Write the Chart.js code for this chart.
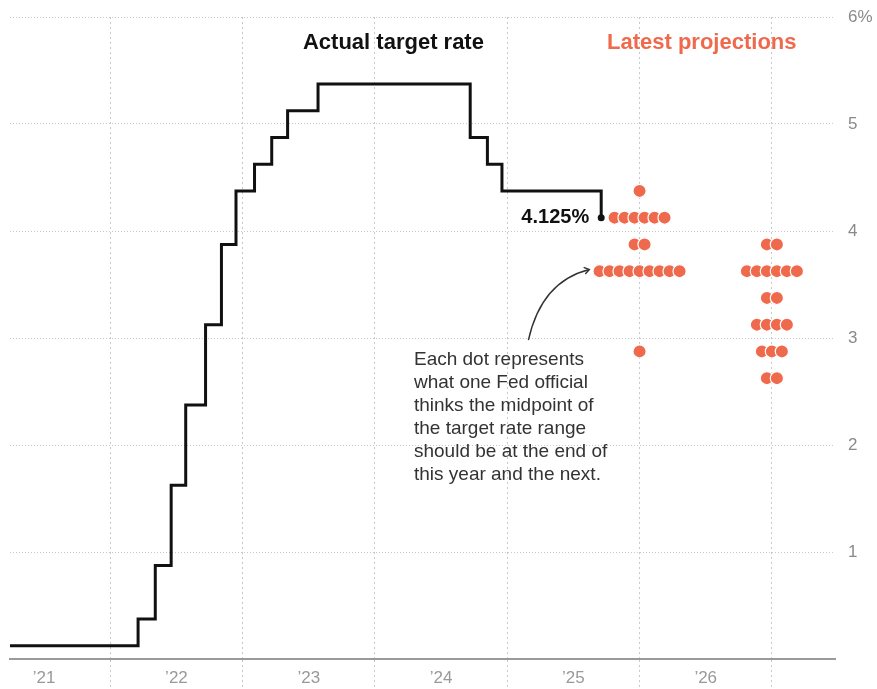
<!DOCTYPE html>
<html>
<head>
<meta charset="utf-8">
<script src="https://cdn.jsdelivr.net/npm/chart.js@4/dist/chart.umd.min.js"></script>
<style>
  html, body { margin: 0; padding: 0; background: #fff; }
  #wrap { width: 877px; height: 689px; position: relative; }
</style>
</head>
<body>
<div id="wrap"><canvas id="myChart"></canvas></div>
<script>
// actual target rate (midpoint), change dates as decimal years
const rateDates = [2021.24, 2022.21, 2022.34, 2022.46, 2022.57, 2022.72, 2022.84, 2022.95,
                   2023.09, 2023.22, 2023.34, 2023.57, 2024.72, 2024.85, 2024.96, 2025.71]
const rateValues = [0.125, 0.375, 0.875, 1.625, 2.375, 3.125, 3.875, 4.375,
                    4.625, 4.875, 5.125, 5.375, 4.875, 4.625, 4.375, 4.125]

// dot plot: year-end projections, one dot per official
const projLevels2025 = [4.375, 4.125, 3.875, 3.625, 2.875]
const projCounts2025 = [1, 6, 2, 9, 1]
const projLevels2026 = [3.875, 3.625, 3.375, 3.125, 2.875, 2.625]
const projCounts2026 = [2, 6, 2, 4, 3, 2]

const yTicks = [1, 2, 3, 4, 5, 6]
const yearLabels = [2021, 2022, 2023, 2024, 2025, 2026]

const orange = '#ef6a4c'
const dotStep = 0.0756 // years between neighbouring dots

function buildDots(year, levels, counts) {
    const pts = []
    levels.forEach((lvl, k) => {
        const n = counts[k]
        for (let i = 0; i < n; i++) {
            pts.push({ x: year + (i - (n - 1) / 2) * dotStep, y: lvl })
        }
    })
    return pts
}

const dots = buildDots(2026, projLevels2025, projCounts2025)
    .concat(buildDots(2027, projLevels2026, projCounts2026))

const labelsPlugin = {
    id: 'labels',
    afterDatasetsDraw(chart) {
        const { ctx, scales: { x, y } } = chart
        ctx.save()
        ctx.textBaseline = 'middle'

        // headers
        ctx.font = 'bold 22px "Liberation Sans", Arial, sans-serif'
        ctx.textAlign = 'center'
        ctx.fillStyle = '#111'
        ctx.fillText('Actual target rate', x.getPixelForValue(2024.14), y.getPixelForValue(5.757))
        ctx.fillStyle = orange
        ctx.fillText('Latest projections', x.getPixelForValue(2026.47), y.getPixelForValue(5.757))

        // last value
        const lastX = x.getPixelForValue(rateDates[rateDates.length - 1])
        const lastY = y.getPixelForValue(rateValues[rateValues.length - 1])
        ctx.font = 'bold 20px "Liberation Sans", Arial, sans-serif'
        ctx.textAlign = 'right'
        ctx.fillStyle = '#111'
        ctx.fillText('4.125%', lastX - 12, lastY)

        // note
        const note = ['Each dot represents', 'what one Fed official', 'thinks the midpoint of',
                      'the target rate range', 'should be at the end of', 'this year and the next.']
        ctx.font = '19px "Liberation Sans", Arial, sans-serif'
        ctx.textAlign = 'left'
        ctx.fillStyle = '#333'
        const nx = x.getPixelForValue(2024.295)
        const ny = y.getPixelForValue(2.794)
        note.forEach((line, i) => ctx.fillText(line, nx, ny + i * 23))

        // arrow
        const sx = x.getPixelForValue(2025.16), sy = y.getPixelForValue(2.98)
        const ex = x.getPixelForValue(2025.62), ey = y.getPixelForValue(3.64)
        const cx = sx + 13, cy = ey + 12
        ctx.strokeStyle = '#333'
        ctx.lineWidth = 1.4
        ctx.beginPath()
        ctx.moveTo(sx, sy)
        ctx.quadraticCurveTo(cx, cy, ex, ey)
        ctx.stroke()
        const ang = Math.atan2(ey - cy, ex - cx)
        ctx.beginPath()
        ctx.moveTo(ex - 6 * Math.cos(ang - 0.6), ey - 6 * Math.sin(ang - 0.6))
        ctx.lineTo(ex, ey)
        ctx.lineTo(ex - 6 * Math.cos(ang + 0.6), ey - 6 * Math.sin(ang + 0.6))
        ctx.stroke()
        ctx.restore()
    }
}

const ctx = document.getElementById('myChart')

const myChart = new Chart(ctx, {
    data: {
        datasets: [
            {
                type: 'scatter',
                label: 'Projections',
                data: dots,
                backgroundColor: orange,
                borderColor: '#fff',
                borderWidth: 1.2,
                pointRadius: 6.6,
                pointHoverRadius: 6.6,
                order: 1
            },
            {
                type: 'line',
                label: 'Target rate',
                data: rateDates.map((d, i) => ({ x: d, y: rateValues[i] })),
                stepped: true,
                borderColor: '#111',
                borderWidth: 3,
                backgroundColor: '#111',
                pointRadius: c => c.dataIndex === rateDates.length - 1 ? 3.5 : 0,
                pointBorderWidth: 0,
                fill: false,
                order: 2
            }
        ]
    },
    options: {
        responsive: true,
        maintainAspectRatio: false,
        animation: false,
        layout: { padding: { left: 10, top: 17, right: 0, bottom: 0 } },
        plugins: {
            legend: { display: false },
            tooltip: { enabled: false }
        },
        scales: {
            x: {
                type: 'linear',
                min: 2021.242,
                max: 2027.477,
                afterFit: s => { s.height = 30 },
                afterBuildTicks: s => {
                    const t = []
                    yearLabels.forEach(yr => { t.push({ value: yr + 0.5 }); t.push({ value: yr + 1 }) })
                    s.ticks = t
                },
                grid: {
                    color: c => c.tick && c.tick.value % 1 === 0 ? '#c8c8c8' : 'transparent',
                    lineWidth: 1,
                    drawTicks: true,
                    tickLength: 30,
                    tickColor: c => c.tick && c.tick.value % 1 === 0 ? '#c8c8c8' : 'transparent',
                    tickBorderDash: [2, 3]
                },
                border: { display: true, color: '#9a9a9a', width: 2, dash: [2, 3] },
                ticks: {
                    autoSkip: false,
                    maxRotation: 0,
                    padding: -21,
                    color: '#999',
                    font: { family: '"Liberation Sans Narrow", "Liberation Sans", Arial, sans-serif', size: 17 },
                    callback: v => v % 1 === 0.5 ? '\u2019' + String(Math.floor(v)).slice(2) : ''
                }
            },
            y: {
                position: 'right',
                min: 0,
                max: 6,
                afterFit: s => { s.width = 42; s.paddingTop = 0; s.paddingBottom = 0 },
                afterBuildTicks: s => { s.ticks = yTicks.map(v => ({ value: v })) },
                grid: {
                    color: '#c8c8c8',
                    lineWidth: 1,
                    drawTicks: false
                },
                border: { display: false, dash: [1, 2] },
                ticks: {
                    padding: 13,
                    color: '#8a8a8a',
                    font: { family: '"Liberation Sans", Arial, sans-serif', size: 17 },
                    callback: v => v === 6 ? '6%' : String(v)
                }
            }
        }
    },
    plugins: [labelsPlugin]
})
</script>
</body>
</html>
